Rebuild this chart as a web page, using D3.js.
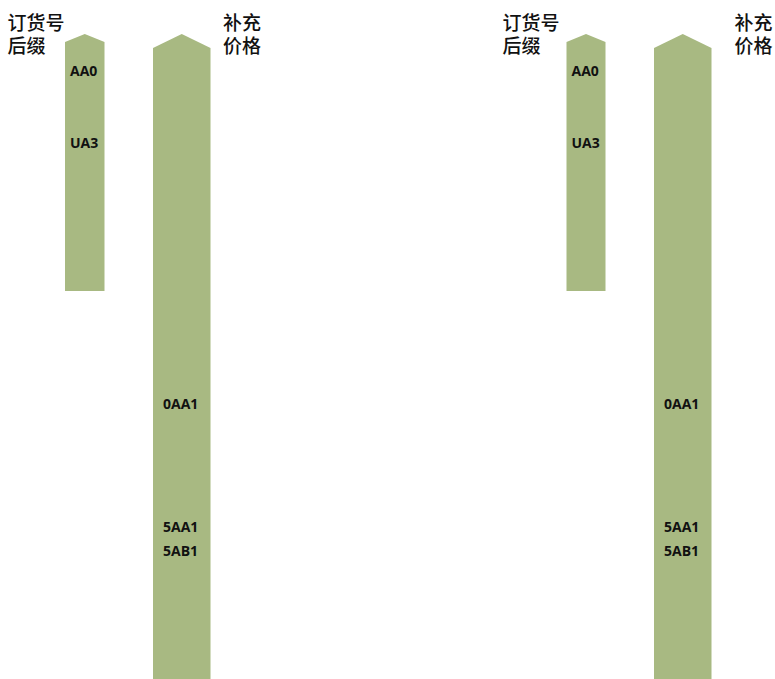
<!DOCTYPE html>
<html>
<head>
<meta charset="utf-8">
<script src="https://cdn.jsdelivr.net/npm/d3@7/dist/d3.min.js"></script>
<style>
  html, body { margin: 0; padding: 0; background: #fff; }
  svg { display: block; }
</style>
</head>
<body>
<script>
// ---- data ----
const panels = ["left", "right"];
const columnHeaders = [["订货号", "后缀"], ["补充", "价格"]];
// depth values measured from arrow tip (top) downward
const barShoulder = [8, 14];
const barBottom = [257, 645];
const column1Labels = ["AA0", "UA3"];
const column1Depths = [42, 114];
const column2Labels = ["0AA1", "5AA1", "5AB1"];
const column2Depths = [375, 498, 522];

// ---- layout ----
const W = 775, H = 679;
const panelLayout = {
  left:  { head1: 7.5, bar1: [65, 104.5], bar2: [153, 210.5], head2: 223 },
  right: { head1: 502.5, bar1: [566.5, 605.5], bar2: [654, 711.5], head2: 734.5 }
};
const green = "#a8b982";

const y = d3.scaleLinear().domain([0, 645]).range([34, 679]);

const svg = d3.select("body").append("svg").attr("width", W).attr("height", H);

function arrowPath(x0, x1, shoulder, bottom) {
  const xm = (x0 + x1) / 2;
  const p = d3.path();
  p.moveTo(x0, y(bottom));
  p.lineTo(x0, y(shoulder));
  p.lineTo(xm, y(0));
  p.lineTo(x1, y(shoulder));
  p.lineTo(x1, y(bottom));
  p.closePath();
  return p.toString();
}

panels.forEach(pn => {
  const L = panelLayout[pn];
  const g = svg.append("g");
  const bars = [L.bar1, L.bar2];
  bars.forEach((b, i) => {
    g.append("path")
      .attr("d", arrowPath(b[0], b[1], barShoulder[i], barBottom[i]))
      .attr("fill", green);
  });
  // headers
  const heads = [L.head1, L.head2];
  columnHeaders.forEach((lines, i) => {
    lines.forEach((ln, j) => {
      g.append("text")
        .attr("x", heads[i])
        .attr("y", 29.5 + j * 23.5)
        .attr("font-family", "'Noto Sans CJK SC', sans-serif")
        .attr("font-size", 19)
        .attr("font-weight", 500)
        .attr("fill", "#111")
        .text(ln);
    });
  });
  // labels
  const lbl = (labels, depths, x) => {
    g.selectAll(null).data(labels).enter().append("text")
      .attr("x", x)
      .attr("y", (d, k) => y(depths[k]))
      .attr("font-family", "'Open Sans', 'Noto Sans', sans-serif")
      .attr("font-weight", 700)
      .attr("font-size", 14)
      .attr("fill", "#111")
      .text(d => d);
  };
  lbl(column1Labels, column1Depths, L.bar1[0] + 5);
  lbl(column2Labels, column2Depths, L.bar2[0] + 10);
});
</script>
</body>
</html>
